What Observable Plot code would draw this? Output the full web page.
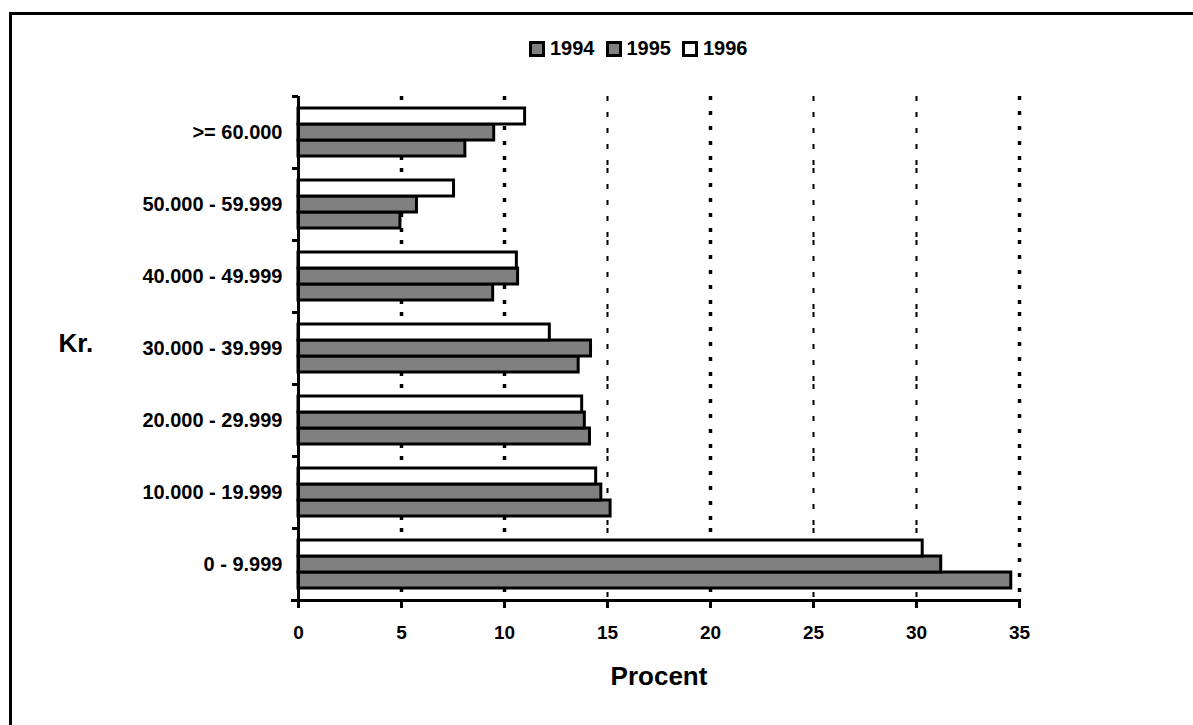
<!DOCTYPE html>
<html>
<head>
<meta charset="utf-8">
<script src="https://cdn.jsdelivr.net/npm/d3@7"></script>
<script src="https://cdn.jsdelivr.net/npm/@observablehq/plot@0.6"></script>
<style>
  html, body { margin: 0; padding: 0; background: #fff; overflow: hidden; width: 1193px; height: 725px; }
  #wrap { position: relative; width: 1193px; height: 725px; overflow: hidden; font-family: "Liberation Sans", Arial, sans-serif; }
  #border { position: absolute; left: 9px; top: 12px; width: 1400px; height: 1000px;
            border-left: 3px solid #000; border-top: 3px solid #000; pointer-events: none; }
  #legend { position: relative; height: 70px; }
  #legend .items { position: absolute; left: 529px; top: 40px; display: flex; align-items: center;
                   font-weight: bold; font-size: 20px; line-height: 17px; color: #000; }
  #legend .sw { width: 16px; height: 16px; box-sizing: border-box; border: 3px solid #000; margin-right: 5px; }
  #legend .lab { margin-right: 11px; }
  #chart { position: relative; }
</style>
</head>
<body>
<div id="wrap">
  <div id="border"></div>
  <div id="legend"><div class="items"></div></div>
  <div id="chart"></div>
</div>
<script>
// ---- data ----
const categories = [">= 60.000", "50.000 - 59.999", "40.000 - 49.999", "30.000 - 39.999",
                    "20.000 - 29.999", "10.000 - 19.999", "0 - 9.999"];
const years = ["1994", "1995", "1996"];
const v1994 = [8.1, 4.95, 9.45, 13.6, 14.15, 15.15, 34.6];
const v1995 = [9.5, 5.75, 10.66, 14.2, 13.9, 14.7, 31.2];
const v1996 = [11.0, 7.55, 10.6, 12.2, 13.77, 14.45, 30.3];
const xTicks = [0, 5, 10, 15, 20, 25, 30, 35];
const gridThick = [5, 10, 20, 35];
const gridThin = [15, 25, 30];
const fills = ["#808080", "#808080", "#ffffff"];
const xLabel = "Procent";
const yLabel = "Kr.";

const series = [v1994, v1995, v1996];
const rows = categories.flatMap((c, i) => years.map((yr, j) => ({cat: c, year: yr, value: series[j][i]})));

// ---- legend ----
const items = document.querySelector("#legend .items");
years.forEach((yr, j) => {
  const sw = document.createElement("div");
  sw.className = "sw"; sw.style.background = fills[j];
  const lab = document.createElement("span");
  lab.className = "lab"; lab.textContent = yr;
  items.appendChild(sw); items.appendChild(lab);
});

// ---- chart ----
const FONT = '"Liberation Sans", Arial, sans-serif';
const W = 1193, H = 655, mT = 26, mB = 125, mL = 298, mR = 174;
const step = (H - mT - mB) / categories.length;
const lastCat = categories[categories.length - 1];
const midCat = categories[Math.floor(categories.length / 2)];

const chart = Plot.plot({
  width: W, height: H,
  marginTop: mT, marginBottom: mB, marginLeft: mL, marginRight: mR,
  style: {fontFamily: FONT, fontWeight: "bold", color: "#000", background: "transparent", overflow: "visible"},
  x: {domain: [0, 35]},
  fy: {domain: categories, padding: 0},
  y: {domain: ["1996", "1995", "1994"], paddingInner: 0, paddingOuter: 0.72, axis: null},
  color: {domain: years, range: fills},
  marks: [
    Plot.ruleX(gridThick, {stroke: "#000", strokeWidth: 3.5, strokeDasharray: "4,11"}),
    Plot.ruleX(gridThin, {stroke: "#000", strokeWidth: 2, strokeDasharray: "5,11"}),
    Plot.barX(rows, {fy: "cat", y: "year", x: "value", fill: "year", stroke: "#000", strokeWidth: 3}),
    Plot.ruleX([0], {stroke: "#000", strokeWidth: 3}),
    Plot.frame({anchor: "bottom", fy: [lastCat], insetLeft: -6, stroke: "#000", strokeWidth: 3}),
    Plot.axisX({ticks: xTicks, tickSize: 8, tickPadding: 17, fontSize: 19, strokeWidth: 3, label: null}),
    Plot.axisFy({anchor: "left", tickSize: 0, tickPadding: 16, fontSize: 20, label: null}),
    Plot.axisFy({anchor: "left", text: null, tickSize: 6, dy: -step / 2, strokeWidth: 3, label: null}),
    Plot.text([xLabel], {fy: [lastCat], frameAnchor: "bottom", dy: 84, fontSize: 26, text: d => d}),
    Plot.text([yLabel], {fy: [midCat], frameAnchor: "left", textAnchor: "start", dx: -240, dy: -5, fontSize: 26, text: d => d})
  ]
});
document.getElementById("chart").appendChild(chart);
</script>
</body>
</html>
